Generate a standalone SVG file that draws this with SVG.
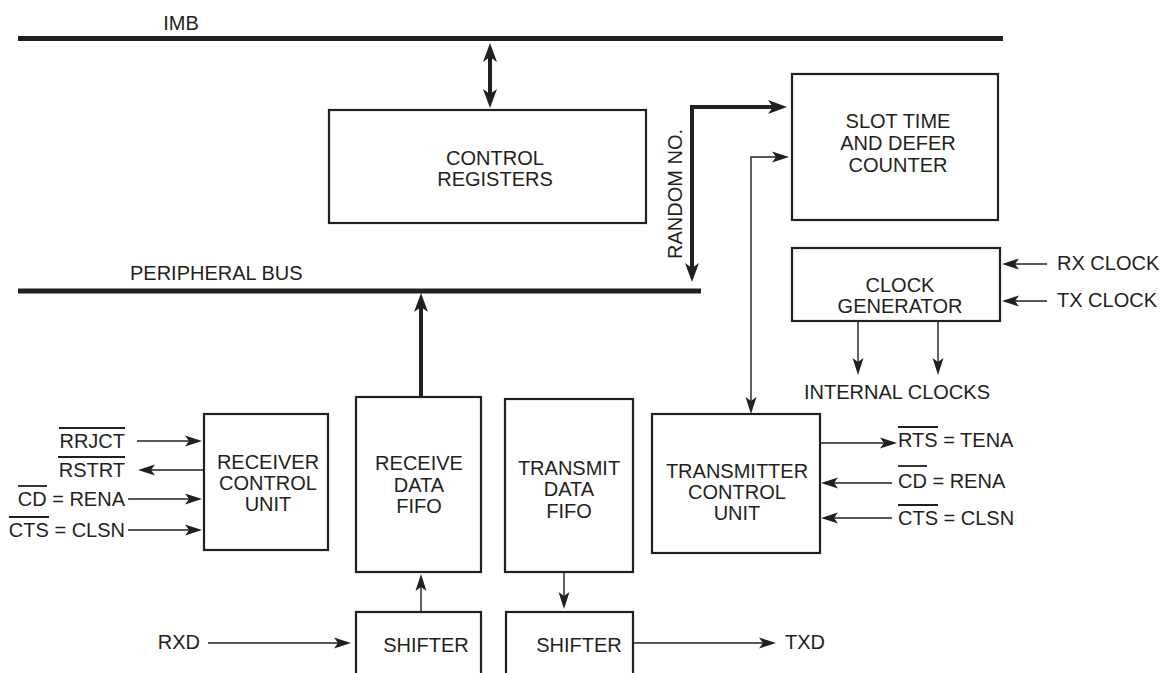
<svg xmlns="http://www.w3.org/2000/svg" width="1162" height="673" viewBox="0 0 1162 673">
<style>
text{font-family:"Liberation Sans",Arial,sans-serif;font-size:20px;fill:#231f20}
.c{text-anchor:middle}
.e{text-anchor:end}
.box{fill:#fff;stroke:#231f20;stroke-width:2.2}
.bus{stroke:#231f20;stroke-width:5;fill:none}
.thick{stroke:#231f20;stroke-width:4;fill:none}
.thin{stroke:#231f20;stroke-width:1.4;fill:none}
.ov{stroke:#231f20;stroke-width:1.8}
</style>
<defs>
<marker id="ah" viewBox="-19 -7 20 14" markerWidth="20" markerHeight="14" refX="-5" refY="0" markerUnits="userSpaceOnUse" orient="auto-start-reverse">
<path d="M0,0 L-17,-5.5 L-13,0 L-17,5.5 Z" fill="#231f20"/>
</marker>
<marker id="ahb" viewBox="-20 -8 21 16" markerWidth="21" markerHeight="16" refX="-10" refY="0" markerUnits="userSpaceOnUse" orient="auto-start-reverse">
<path d="M0,0 L-19,-7 L-14,0 L-19,7 Z" fill="#231f20"/>
</marker>
</defs>

<g id="buses">
<line class="bus" x1="18" y1="38.5" x2="1003" y2="38.5"/>
<text x="181" y="30" class="c">IMB</text>
<line class="bus" x1="18" y1="291" x2="701" y2="291"/>
<text x="130" y="280">PERIPHERAL BUS</text>
</g>

<g id="connectors">
<path class="thick" d="M490,53 L490,98" marker-start="url(#ahb)" marker-end="url(#ahb)"/>
<path class="thick" d="M692,272 L692,107 L777,107" marker-start="url(#ahb)" marker-end="url(#ahb)"/>
<path class="thick" d="M421,397 L421,303" marker-end="url(#ahb)"/>
<path class="thin" d="M751,409 L751,157 L784,157" marker-start="url(#ah)" marker-end="url(#ah)"/>
<path class="thin" d="M1047,264 L1007,264" marker-end="url(#ah)"/>
<path class="thin" d="M1047,301 L1007,301" marker-end="url(#ah)"/>
<path class="thin" d="M858,321 L858,370" marker-end="url(#ah)"/>
<path class="thin" d="M938,321 L938,370" marker-end="url(#ah)"/>
<path class="thin" d="M137,441 L197,441" marker-end="url(#ah)"/>
<path class="thin" d="M203,470 L143,470" marker-end="url(#ah)"/>
<path class="thin" d="M128,499 L197,499" marker-end="url(#ah)"/>
<path class="thin" d="M128,530 L197,530" marker-end="url(#ah)"/>
<path class="thin" d="M820,443 L892,443" marker-end="url(#ah)"/>
<path class="thin" d="M892,483 L826,483" marker-end="url(#ah)"/>
<path class="thin" d="M892,518 L826,518" marker-end="url(#ah)"/>
<path class="thin" d="M421,612 L421,579" marker-end="url(#ah)"/>
<path class="thin" d="M564,572 L564,604" marker-end="url(#ah)"/>
<path class="thin" d="M208,643 L346,643" marker-end="url(#ah)"/>
<path class="thin" d="M634,643 L771,643" marker-end="url(#ah)"/>
</g>

<g id="control-registers">
<rect class="box" x="329" y="110" width="317" height="113"/>
<text x="495" y="165" class="c">CONTROL</text>
<text x="495" y="186" class="c">REGISTERS</text>
</g>

<g id="random-no-label">
<text transform="translate(682,194) rotate(-90)" class="c">RANDOM NO.</text>
</g>

<g id="slot-time">
<rect class="box" x="792" y="74" width="206" height="146"/>
<text x="898" y="128" class="c">SLOT TIME</text>
<text x="898" y="150" class="c">AND DEFER</text>
<text x="898" y="172" class="c">COUNTER</text>
</g>

<g id="clock-generator">
<rect class="box" x="792" y="248" width="208" height="73"/>
<text x="900" y="292" class="c">CLOCK</text>
<text x="900" y="313" class="c">GENERATOR</text>
</g>

<g id="clock-labels">
<text x="1057" y="270">RX CLOCK</text>
<text x="1057" y="307">TX CLOCK</text>
<text x="897" y="399" class="c">INTERNAL CLOCKS</text>
</g>

<g id="receiver-control-unit">
<rect class="box" x="204" y="414" width="124" height="136"/>
<text x="268" y="469" class="c">RECEIVER</text>
<text x="268" y="490" class="c">CONTROL</text>
<text x="268" y="511" class="c">UNIT</text>
</g>

<g id="receiver-signals">
<text x="125" y="448" class="e">RRJCT</text>
<line class="ov" x1="59" y1="428" x2="125" y2="428"/>
<text x="125" y="477" class="e">RSTRT</text>
<line class="ov" x1="58" y1="457" x2="125" y2="457"/>
<text x="125" y="506" class="e">CD = RENA</text>
<line class="ov" x1="18" y1="486" x2="47" y2="486"/>
<text x="125" y="537" class="e">CTS = CLSN</text>
<line class="ov" x1="9" y1="517" x2="49" y2="517"/>
</g>

<g id="receive-data-fifo">
<rect class="box" x="356" y="397" width="125" height="175"/>
<text x="419" y="470" class="c">RECEIVE</text>
<text x="419" y="492" class="c">DATA</text>
<text x="419" y="513" class="c">FIFO</text>
</g>

<g id="transmit-data-fifo">
<rect class="box" x="505" y="399" width="128" height="173"/>
<text x="569" y="475" class="c">TRANSMIT</text>
<text x="569" y="496" class="c">DATA</text>
<text x="569" y="518" class="c">FIFO</text>
</g>

<g id="transmitter-control-unit">
<rect class="box" x="652" y="414" width="168" height="139"/>
<text x="737" y="478" class="c">TRANSMITTER</text>
<text x="737" y="499" class="c">CONTROL</text>
<text x="737" y="520" class="c">UNIT</text>
</g>

<g id="transmitter-signals">
<text x="898" y="447">RTS = TENA</text>
<line class="ov" x1="898" y1="427" x2="938" y2="427"/>
<text x="898" y="488">CD = RENA</text>
<line class="ov" x1="898" y1="466" x2="927" y2="466"/>
<text x="898" y="525">CTS = CLSN</text>
<line class="ov" x1="898" y1="505" x2="938" y2="505"/>
</g>

<g id="rx-shifter">
<rect class="box" x="356" y="612" width="125" height="80"/>
<text x="426" y="652" class="c">SHIFTER</text>
</g>

<g id="tx-shifter">
<rect class="box" x="506" y="612" width="127" height="80"/>
<text x="579" y="652" class="c">SHIFTER</text>
</g>

<g id="io-labels">
<text x="200" y="649" class="e">RXD</text>
<text x="785" y="649">TXD</text>
</g>
</svg>
